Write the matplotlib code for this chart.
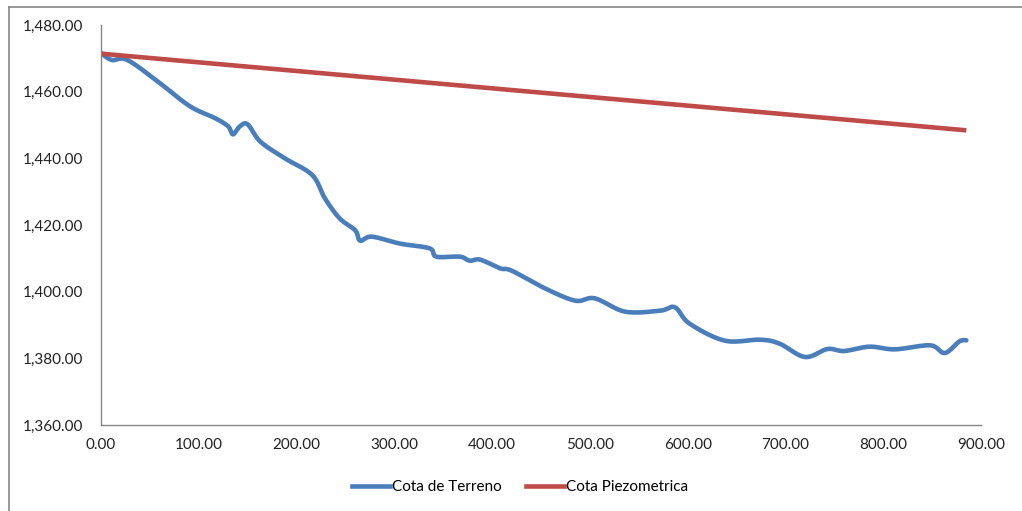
import numpy as np
import matplotlib
matplotlib.use("Agg")
import matplotlib.pyplot as plt
from matplotlib.lines import Line2D
from matplotlib.ticker import FuncFormatter

# Data
terreno_x = [0, 11, 27, 60, 91, 117, 130, 135, 142, 150, 163, 188, 216, 229, 244,
             260, 265, 277, 306, 336, 343, 367, 377, 388, 408, 420, 454, 485, 505,
             536, 572, 587, 602, 638, 674, 694, 720, 743, 760, 786, 812, 848, 863,
             878, 885]
terreno_y = [1471.6, 1469.5, 1469.5, 1462.6, 1455.6, 1452.0, 1449.6, 1447.2, 1449.6,
             1450.2, 1445.0, 1440.0, 1435.0, 1428.0, 1422.0, 1418.4, 1415.3, 1416.5,
             1414.4, 1413.0, 1410.5, 1410.5, 1409.3, 1409.6, 1407.0, 1406.3, 1401.0,
             1397.3, 1398.0, 1394.0, 1394.3, 1395.3, 1390.4, 1385.3, 1385.6, 1384.4,
             1380.4, 1382.8, 1382.2, 1383.5, 1382.7, 1383.9, 1381.6, 1385.1, 1385.4]
piezo_x = [0, 885]
piezo_y = [1471.4, 1448.4]

labels = ["Cota de Terreno", "Cota Piezometrica"]
x_ticks = [0, 100, 200, 300, 400, 500, 600, 700, 800, 900]
y_ticks = [1360, 1380, 1400, 1420, 1440, 1460, 1480]

blue = "#4a7ebb"
red = "#be4b48"
axis_col = "#868686"

def smooth(xs, ys, n=12):
    # Catmull-Rom style rendering (like Excel's smoothed lines)
    xs = np.asarray(xs, float); ys = np.asarray(ys, float)
    P = np.column_stack([xs, ys])
    P = np.vstack([P[0], P, P[-1]])
    out = []
    for i in range(1, len(P) - 2):
        p0, p1, p2, p3 = P[i - 1], P[i], P[i + 1], P[i + 2]
        t = np.linspace(0, 1, n, endpoint=False)[:, None]
        pts = 0.5 * ((2 * p1) + (-p0 + p2) * t + (2 * p0 - 5 * p1 + 4 * p2 - p3) * t ** 2
                     + (-p0 + 3 * p1 - 3 * p2 + p3) * t ** 3)
        out.append(pts)
    out.append(P[-2][None, :])
    out = np.vstack(out)
    return out[:, 0], out[:, 1]

plt.rcParams['font.family'] = ['Lato', 'DejaVu Sans']

fig = plt.figure(figsize=(10.22, 5.11), dpi=100)
W, H = 1022, 511
ax = fig.add_axes([101 / W, 1 - 425 / H, 880 / W, 400 / H])

sx, sy = smooth(terreno_x, terreno_y)
ax.plot(sx, sy, color=blue, lw=3.3, solid_capstyle='round', solid_joinstyle='round')
ax.plot(piezo_x, piezo_y, color=red, lw=3.3, solid_capstyle='butt')

ax.set_xlim(0, 900)
ax.set_ylim(1360, 1480)
ax.set_xticks(x_ticks)
ax.set_yticks(y_ticks)
ax.xaxis.set_major_formatter(FuncFormatter(lambda v, p: f"{v:,.2f}"))
ax.yaxis.set_major_formatter(FuncFormatter(lambda v, p: f"{v:,.2f}"))
ax.tick_params(axis='both', length=0, labelsize=11, colors='#222222')
ax.tick_params(axis='y', pad=13)
ax.tick_params(axis='x', pad=9)
for s in ['top', 'right']:
    ax.spines[s].set_visible(False)
for s in ['left', 'bottom']:
    ax.spines[s].set_color(axis_col)
    ax.spines[s].set_linewidth(1.0)

handles = [Line2D([], [], color=blue, lw=3.3), Line2D([], [], color=red, lw=3.3)]
fig.legend(handles, labels, loc='center', bbox_to_anchor=(520 / W, 1 - 487 / H),
           ncol=2, frameon=False, fontsize=11, handlelength=2.5, handletextpad=0.1,
           columnspacing=1.6)

# outer chart border (left and top edges visible)
fig.add_artist(Line2D([9 / W, 9 / W], [0, 1 - 7 / H], transform=fig.transFigure,
                      color=axis_col, lw=1.2))
fig.add_artist(Line2D([9 / W, 1.0], [1 - 7 / H, 1 - 7 / H], transform=fig.transFigure,
                      color=axis_col, lw=1.2))

fig.savefig("out.png", dpi=100, facecolor='white')
